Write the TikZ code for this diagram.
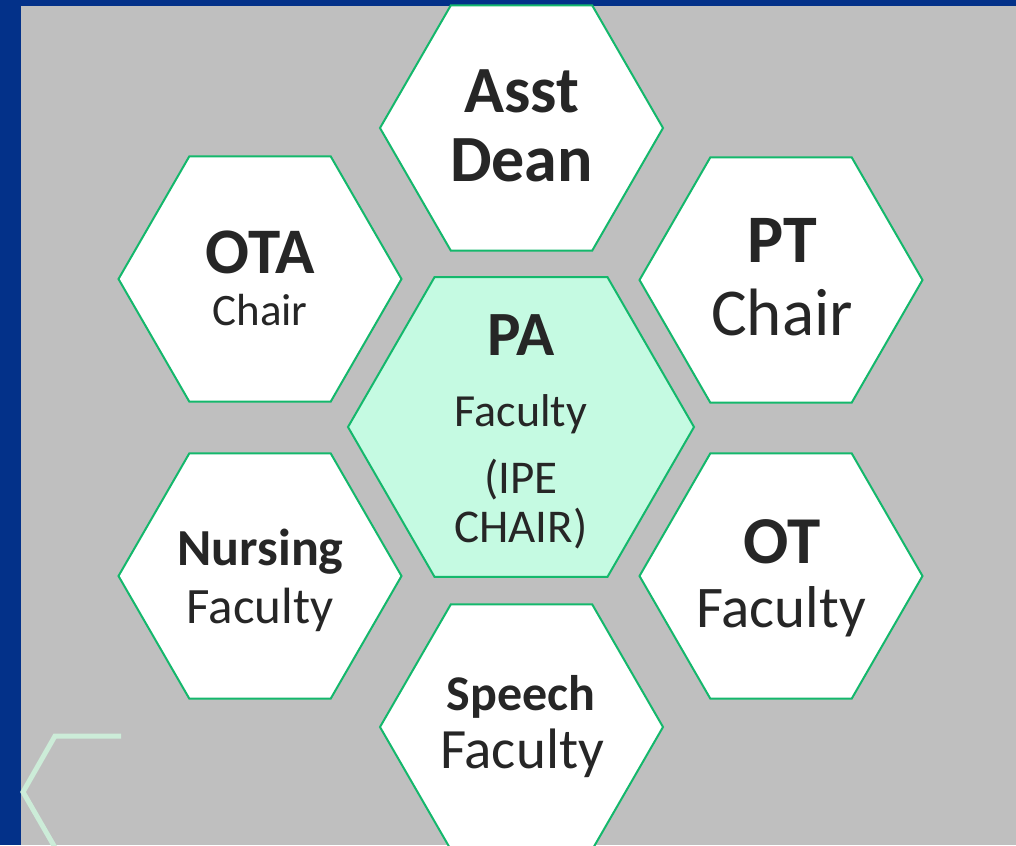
\documentclass[tikz,border=0pt]{standalone}
\usepackage{fontspec}
\setmainfont{Carlito}
\usetikzlibrary{shapes.geometric}
\definecolor{slideblue}{RGB}{3,49,137}
\definecolor{slidegrey}{RGB}{191,191,191}
\definecolor{cellgreen}{RGB}{20,184,108}
\definecolor{cellmint}{RGB}{197,250,226}
\definecolor{cornermint}{RGB}{204,236,216}
\definecolor{celltext}{RGB}{38,38,38}
\newcommand{\cellfont}[1]{\fontsize{#1}{#1}\selectfont}
\tikzset{
  hexcell/.style={regular polygon, regular polygon sides=6, draw=cellgreen,
    line width=2pt, fill=white, inner sep=0pt, minimum size=283pt},
  hexmid/.style={hexcell, fill=cellmint, minimum size=346pt},
  celltxt/.style={anchor=base, text=celltext, inner sep=0pt},
}
\begin{document}
\begin{tikzpicture}[x=1pt,y=-1pt]
\clip (0,0) rectangle (1016,845);
\fill [slideblue] (0,0) rectangle (1016,845);
\fill [slidegrey] (21,6) rectangle (1016,845);
% corner ornament
\draw [cornermint, line width=5pt] (121,736) -- (55,736) -- (23,792) -- (57,851);
% the seven cells
\node [hexcell] (asst) at (521.5,128) {};
\node [hexcell] (ota) at (260,279) {};
\node [hexcell] (pt) at (781,280) {};
\node [hexmid] (pa) at (521,427) {};
\node [hexcell] (nursing) at (260,576) {};
\node [hexcell] (ot) at (781,576) {};
\node [hexcell] (speech) at (521.5,727) {};
% texts
\node [celltxt, font=\bfseries\cellfont{66}] (asst1) at (521.5,113) {Asst};
\node [celltxt, font=\bfseries\cellfont{66}] (asst2) at (521.5,182) {Dean};
\node [celltxt, font=\bfseries\cellfont{65}] (ota1) at (260,273) {OTA};
\node [celltxt, font=\cellfont{45}] (ota2) at (260,325) {Chair};
\node [celltxt, font=\bfseries\cellfont{68}] (pt1) at (782,262) {PT};
\node [celltxt, font=\cellfont{67}] (pt2) at (782,335) {Chair};
\node [celltxt, font=\bfseries\cellfont{63}] (pa1) at (521,355) {PA};
\node [celltxt, font=\cellfont{46}] (pa2) at (521,426) {Faculty};
\node [celltxt, font=\cellfont{47}] (pa3) at (521,493) {(IPE};
\node [celltxt, font=\cellfont{47}] (pa4) at (521,542) {CHAIR)};
\node [celltxt, font=\bfseries\cellfont{52}] (nursing1) at (260.5,565) {Nursing};
\node [celltxt, font=\cellfont{51}] (nursing2) at (260,623) {Faculty};
\node [celltxt, font=\bfseries\cellfont{67}] (ot1) at (782,563) {OT};
\node [celltxt, font=\cellfont{59}] (ot2) at (781,627) {Faculty};
\node [celltxt, font=\bfseries\cellfont{50}] (speech1) at (521,710) {Speech};
\node [celltxt, font=\cellfont{57}] (speech2) at (522,768) {Faculty};
\end{tikzpicture}
\end{document}
